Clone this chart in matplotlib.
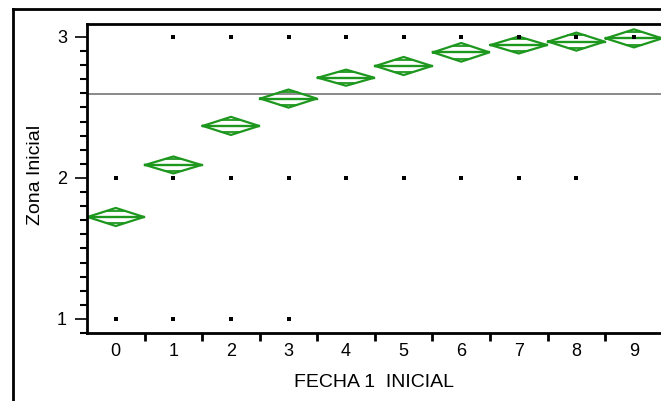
import matplotlib
matplotlib.use("Agg")
import matplotlib.pyplot as plt
from matplotlib.lines import Line2D
from matplotlib.ticker import MultipleLocator, FixedLocator
import numpy as np

plt.rcParams['font.family'] = ['Liberation Sans', 'DejaVu Sans']

# Data
categories = ['0', '1', '2', '3', '4', '5', '6', '7', '8', '9']
means = [1.723, 2.092, 2.369, 2.563, 2.711, 2.794, 2.891, 2.943, 2.967, 2.990]
ci_half = [0.064, 0.060, 0.064, 0.064, 0.057, 0.064, 0.066, 0.060, 0.064, 0.064]
grand_mean = 2.596
# observed distinct values (points) per category
points = {
    '0': [1, 2],
    '1': [1, 2, 3],
    '2': [1, 2, 3],
    '3': [1, 2, 3],
    '4': [2, 3],
    '5': [2, 3],
    '6': [2, 3],
    '7': [2, 3],
    '8': [2, 3],
    '9': [3],
}

W, H = 661, 401
fig = plt.figure(figsize=(W / 100, H / 100), dpi=100)
ax = fig.add_axes([87 / W, 1 - 333 / H, 1 - 87 / W, (333 - 24) / H])

green = '#1e971e'
hw = 0.49
r = 1 / np.sqrt(2)
for i, c in enumerate(categories):
    m, h = means[i], ci_half[i]
    xs = [i - hw, i, i + hw, i, i - hw]
    ys = [m, m + h, m, m - h, m]
    ax.plot(xs, ys, color=green, lw=1.6, solid_joinstyle='miter')
    ax.plot([i - hw, i + hw], [m, m], color=green, lw=1.7)
    ow = hw * (1 - r)
    for s in (1, -1):
        ax.plot([i - ow, i + ow], [m + s * h * r] * 2, color=green, lw=1.3)
    pv = points[c]
    ax.plot([i] * len(pv), pv, ls='none', marker='s', ms=2.5, color='black', mew=0)

ax.axhline(grand_mean, color='#808080', lw=1.3, zorder=0)

ax.set_xlim(-0.5, 9.47)
ax.set_ylim(0.9, 3.092)

ax.xaxis.set_major_locator(FixedLocator(np.arange(len(categories))))
ax.set_xticklabels(categories)
ax.xaxis.set_minor_locator(FixedLocator(np.arange(len(categories)) + 0.5))
ax.tick_params(axis='x', which='major', length=0, pad=7, labelsize=13)
ax.tick_params(axis='x', which='minor', length=6, width=2, direction='out')

ax.yaxis.set_major_locator(FixedLocator([1, 2, 3]))
ax.yaxis.set_minor_locator(MultipleLocator(0.1))
ax.tick_params(axis='y', which='major', length=8.5, width=1.2, labelsize=13, pad=6)
ax.tick_params(axis='y', which='minor', length=5, width=1.5)

for s in ['left', 'bottom', 'top']:
    ax.spines[s].set_linewidth(2)
ax.spines['right'].set_visible(False)

ax.set_xlabel('FECHA 1  INICIAL', fontsize=14)
ax.xaxis.set_label_coords((374 - 87) / (W - 87), -(374 - 333) / (333 - 24))
ax.set_ylabel('Zona Inicial', fontsize=14)
ax.yaxis.set_label_coords(-(87 - 44) / (W - 87), (333 - 175) / (333 - 24))

# outer frame
fig.add_artist(Line2D([13 / W, 13 / W], [0, 1 - 9 / H], color='black', lw=2, transform=fig.transFigure))
fig.add_artist(Line2D([13 / W, 1], [1 - 9 / H, 1 - 9 / H], color='black', lw=2, transform=fig.transFigure))

fig.savefig('out.png', dpi=100)
